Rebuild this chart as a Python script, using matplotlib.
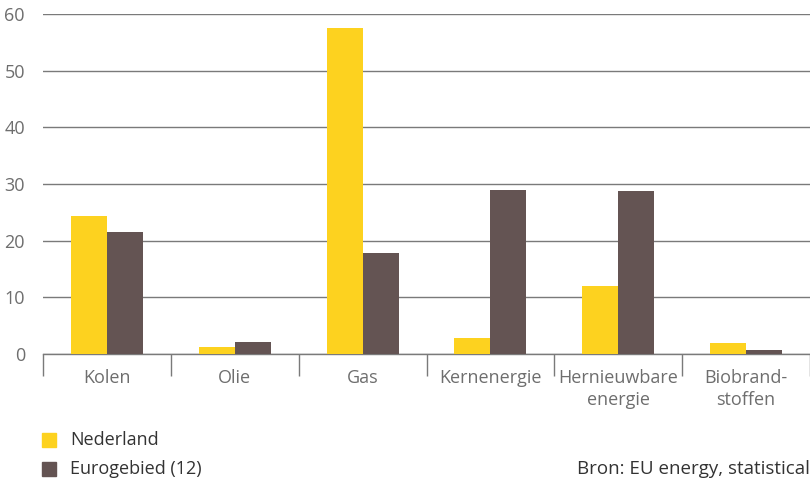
import matplotlib
matplotlib.use("Agg")
import matplotlib.pyplot as plt
import numpy as np
from matplotlib.patches import Rectangle

categories = ["Kolen", "Olie", "Gas", "Kernenergie", "Hernieuwbare\nenergie", "Biobrand-\nstoffen"]
nederland = [24.4, 1.2, 57.5, 2.8, 12.0, 1.9]
eurogebied = [21.5, 2.1, 17.8, 28.9, 28.8, 0.7]
yticks = [0, 10, 20, 30, 40, 50, 60]
series_names = ["Nederland", "Eurogebied (12)"]
source = "Bron: EU energy, statistical"

YELLOW = "#FDD21F"
BROWN = "#645453"
GRID = "#7a7a7a"
TEXT = "#6e6e6e"

plt.rcParams['font.family'] = ['Open Sans', 'DejaVu Sans']

W, H = 810, 482
fig = plt.figure(figsize=(W/100, H/100), dpi=100)
x0, x1, y0, y1 = 43, 810, 354, 14
ax = fig.add_axes([x0/W, 1 - y0/H, (x1-x0)/W, (y0-y1)/H])

n = len(categories)
x = np.arange(n)
bw = 36/128
ax.bar(x - bw/2, nederland, bw, color=YELLOW, zorder=3)
ax.bar(x + bw/2, eurogebied, bw, color=BROWN, zorder=3)

ax.set_xlim(-0.5, n - 0.5)
ax.set_ylim(0, 60)
ax.set_yticks(yticks)
ax.yaxis.grid(True, color=GRID, linewidth=1.0, zorder=1)
ax.set_axisbelow(True)
for s in ["top", "right", "left"]:
    ax.spines[s].set_visible(False)
ax.spines["bottom"].set_color(GRID)
ax.spines["bottom"].set_linewidth(1.0)
ax.tick_params(axis="y", length=0, labelsize=13, labelcolor=TEXT, pad=13)
for lbl in ax.get_yticklabels():
    lbl.set_horizontalalignment("right")

# category boundary ticks
ax.set_xticks(np.arange(-0.5, n, 1.0), minor=False)
ax.set_xticklabels([])
ax.tick_params(axis="x", length=16, width=1.0, color=GRID, direction="out")
for i, c in enumerate(categories):
    ax.text(i, -2.6, c, ha="center", va="top", fontsize=13, color=TEXT,
            linespacing=1.3, transform=ax.transData)

# legend
for k, (name, col) in enumerate(zip(series_names, [YELLOW, BROWN])):
    yc = 440 + k*29
    fig.patches.append(Rectangle((42/W, 1 - (yc+7)/H), 14/W, 14/H, color=col,
                                 transform=fig.transFigure, figure=fig))
    fig.text(70/W, 1 - yc/H, name, ha="left", va="center", fontsize=13, color="#333333")

fig.text(810/W, 1 - 469/H, source, ha="right", va="center", fontsize=13.5, color="#333333")

fig.savefig("out.png", dpi=100)
